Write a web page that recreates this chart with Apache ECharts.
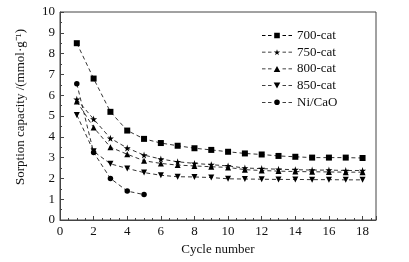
<!DOCTYPE html>
<html><head><meta charset="utf-8">
<script src="https://cdn.jsdelivr.net/npm/echarts@6/dist/echarts.min.js"></script>
<style>html,body{margin:0;padding:0;background:#fff}#c{width:409px;height:262px}</style>
</head><body><div id="c"></div>
<script>
const cycles = [1,2,3,4,5,6,7,8,9,10,11,12,13,14,15,16,17,18];
const cat700 = [8.5,6.8,5.2,4.3,3.9,3.7,3.57,3.45,3.37,3.28,3.2,3.15,3.08,3.04,3.0,3.0,3.0,2.98];
const cat750 = [5.8,4.85,3.93,3.46,3.12,2.93,2.8,2.72,2.66,2.6,2.5,2.47,2.44,2.42,2.4,2.4,2.38,2.38];
const cat800 = [5.7,4.45,3.5,3.16,2.85,2.72,2.64,2.6,2.56,2.53,2.42,2.38,2.35,2.33,2.32,2.31,2.3,2.3];
const cat850 = [5.05,3.3,2.7,2.48,2.28,2.15,2.08,2.07,2.04,1.98,1.97,1.96,1.95,1.95,1.94,1.94,1.93,1.93];
const niCaO = [6.55,3.25,2.0,1.39,1.22];
const seriesNames = ['700-cat','750-cat','800-cat','850-cat','Ni/CaO'];
const starPath = 'path://M50,0 L61,35 L98,35 L68,57 L79,91 L50,70 L21,91 L32,57 L2,35 L39,35 Z';
const font = 'Liberation Serif';
// legend icons: dashes + marker
const dashes = 'M0,26 H35 V34 H0 Z M60,26 H95 V34 H60 Z M205,26 H240 V34 H205 Z M265,26 H300 V34 H265 Z ';
const legendIcons = [
  'path://' + dashes + 'M122,2 H178 V58 H122 Z',
  'path://' + dashes + 'M150,0 L157.3,23.1 L181.7,23.1 L161.9,37.6 L169.1,60 L150,46.2 L130.9,60 L138.1,37.6 L118.3,23.1 L142.7,23.1 Z',
  'path://' + dashes + 'M150,0 L183,60 L117,60 Z',
  'path://' + dashes + 'M117,0 L183,0 L150,60 Z',
  'path://' + dashes + 'M122,30 A28,28 0 1,0 178,30 A28,28 0 1,0 122,30 Z'
];
function mk(name, vals, symbol, size, rot){
  return {
    name, type:'line', data: vals.map((v,i)=>[cycles[i], v]),
    symbol, symbolSize:size, symbolRotate:rot||0,
    itemStyle:{color:'#000'},
    lineStyle:{color:'#000', width:0.8, type:[4,3]},
    z: 3
  };
}
const chart = echarts.init(document.getElementById('c'));
chart.setOption({
  animation:false,
  backgroundColor:'#fff',
  textStyle:{fontFamily:font},
  grid:{left:60,right:33,top:12,bottom:42,show:true,borderColor:'#444',borderWidth:1},
  legend:{
    orient:'vertical', left:257, top:24, itemWidth:30, itemHeight:6, itemGap:3.7,
    textStyle:{fontFamily:font,fontSize:13,color:'#111'},
    data:seriesNames.map((n,i)=>({name:n, icon:legendIcons[i]}))
  },
  xAxis:{
    type:'value', min:0, max:18.8, interval:2,
    name:'Cycle number', nameLocation:'middle', nameGap:19,
    nameTextStyle:{fontFamily:font,fontSize:13,color:'#111'},
    axisLine:{lineStyle:{color:'#444'}},
    axisTick:{inside:true,length:4,lineStyle:{color:'#444'}},
    minorTick:{show:true,splitNumber:4,length:2,lineStyle:{color:'#444'}},
    splitLine:{show:false},
    axisLabel:{fontFamily:font,fontSize:13,color:'#111',margin:5,
      formatter:v=> (Math.abs(v%2)<1e-6 && v<=18) ? String(v) : ''}
  },
  yAxis:{
    type:'value', min:0, max:10, interval:1,
    name:'Sorption capacity /(mmol·g⁻¹)', nameLocation:'middle', nameGap:33,
    nameTextStyle:{fontFamily:font,fontSize:13,color:'#111',padding:[0,0,0,18]},
    axisLine:{lineStyle:{color:'#444'}},
    axisTick:{inside:true,length:4,lineStyle:{color:'#444'}},
    minorTick:{show:true,splitNumber:2,length:2,lineStyle:{color:'#444'}},
    splitLine:{show:false},
    axisLabel:{fontFamily:font,fontSize:13,color:'#111',margin:5}
  },
  series:[
    mk('700-cat',cat700,'rect',6),
    mk('750-cat',cat750,starPath,7),
    mk('800-cat',cat800,'triangle',6),
    mk('850-cat',cat850,'triangle',6,180),
    mk('Ni/CaO',niCaO,'circle',5.5)
  ]
});
</script></body></html>
